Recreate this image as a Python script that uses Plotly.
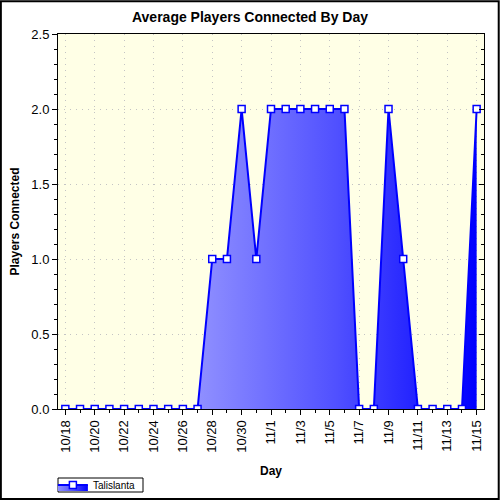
import plotly.graph_objects as go

# data
days = ["10/18", "10/19", "10/20", "10/21", "10/22", "10/23", "10/24", "10/25",
        "10/26", "10/27", "10/28", "10/29", "10/30", "10/31", "11/1", "11/2",
        "11/3", "11/4", "11/5", "11/6", "11/7", "11/8", "11/9", "11/10",
        "11/11", "11/12", "11/13", "11/14", "11/15"]
players = [0, 0, 0, 0, 0, 0, 0, 0, 0, 0, 1, 1, 2, 1, 2, 2, 2, 2, 2, 2,
           0, 0, 2, 1, 0, 0, 0, 0, 2]
series_name = "Talislanta"

x = list(range(len(days)))
FONT = "Arial, Liberation Sans, sans-serif"
GRID = dict(showgrid=True, gridcolor="#C4C4C4", griddash="1px,5px", gridwidth=1)
PW, PH = 426, 375  # plot area in px

fig = go.Figure()
fig.add_trace(go.Scatter(
    x=x, y=players, name=series_name,
    mode="lines+markers",
    fill="tozeroy",
    fillgradient=dict(type="horizontal", start=9, stop=28,
                      colorscale=[[0, "#9090FF"], [0.5, "#5050FF"], [1, "#0000FF"]]),
    line=dict(color="#0000FF", width=2),
    marker=dict(symbol="square", size=7, color="white",
                line=dict(color="#0000FF", width=1.5)),
))
# invisible copy so the right-hand tick axis gets drawn
fig.add_trace(go.Scatter(
    x=x, y=players, yaxis="y2", mode="lines", opacity=0,
    showlegend=False, hoverinfo="skip",
))

fig.update_layout(
    width=500, height=500,
    margin=dict(l=58, r=16, t=34, b=91, autoexpand=False),
    paper_bgcolor="white",
    plot_bgcolor="#FFFFE6",
    font=dict(family=FONT, size=13, color="black"),
    title=dict(text="<b>Average Players Connected By Day</b>", x=0.5, xanchor="center",
               y=0.966, yanchor="middle", font=dict(size=14)),
    showlegend=True,
    legend=dict(x=-0.012, y=-76 / PH, xanchor="left", yanchor="middle",
                borderwidth=0, bgcolor="rgba(0,0,0,0)",
                font=dict(size=10), itemwidth=30,
                tracegroupgap=0),
    xaxis=dict(
        range=[-0.5, 28.5], automargin=False,
        tickmode="array", tickvals=x[::2], ticktext=days[::2],
        tickangle=-90, ticks="outside", ticklen=5, tickcolor="black",
        minor=dict(tickmode="array", tickvals=x, ticks="outside", ticklen=3,
                   tickcolor="black", showgrid=False),
        showline=True, linecolor="black", linewidth=1, mirror=True,
        zeroline=False,
        title=dict(text="<b>Day</b>", font=dict(size=12), standoff=14),
        **GRID,
    ),
    yaxis=dict(
        range=[0, 2.5], dtick=0.5, tickformat=".1f", automargin=False,
        ticks="outside", ticklen=5, tickcolor="black",
        minor=dict(dtick=0.1, ticks="outside", ticklen=3, tickcolor="black",
                   showgrid=False),
        showline=True, linecolor="black", linewidth=1, mirror=True,
        zeroline=False,
        title=dict(text="<b>Players Connected</b>", font=dict(size=12), standoff=9),
        **GRID,
    ),
    yaxis2=dict(
        overlaying="y", side="right", range=[0, 2.5], dtick=0.5, automargin=False,
        showticklabels=False, ticks="inside", ticklen=5, tickcolor="black",
        minor=dict(dtick=0.1, ticks="inside", ticklen=3, tickcolor="black"),
        showgrid=False, zeroline=False, showline=False,
    ),
)

# frame around the whole picture
fig.add_shape(type="rect", xref="paper", yref="paper",
              x0=-58 / PW + 0.002, x1=1 + 16 / PW - 0.003,
              y0=-91 / PH + 0.003, y1=1 + 34 / PH - 0.003,
              line=dict(color="black", width=2))
# compact box around the legend entry
fig.add_shape(type="rect", xref="paper", yref="paper",
              x0=0, x1=85 / PW, y0=-83 / PH, y1=-69 / PH,
              line=dict(color="black", width=1))

# drop the page's default body margin so the figure sits at the window's corner
fig.write_html("out.html", config={"displayModeBar": False},
               post_script="document.body.style.margin='0px';")
